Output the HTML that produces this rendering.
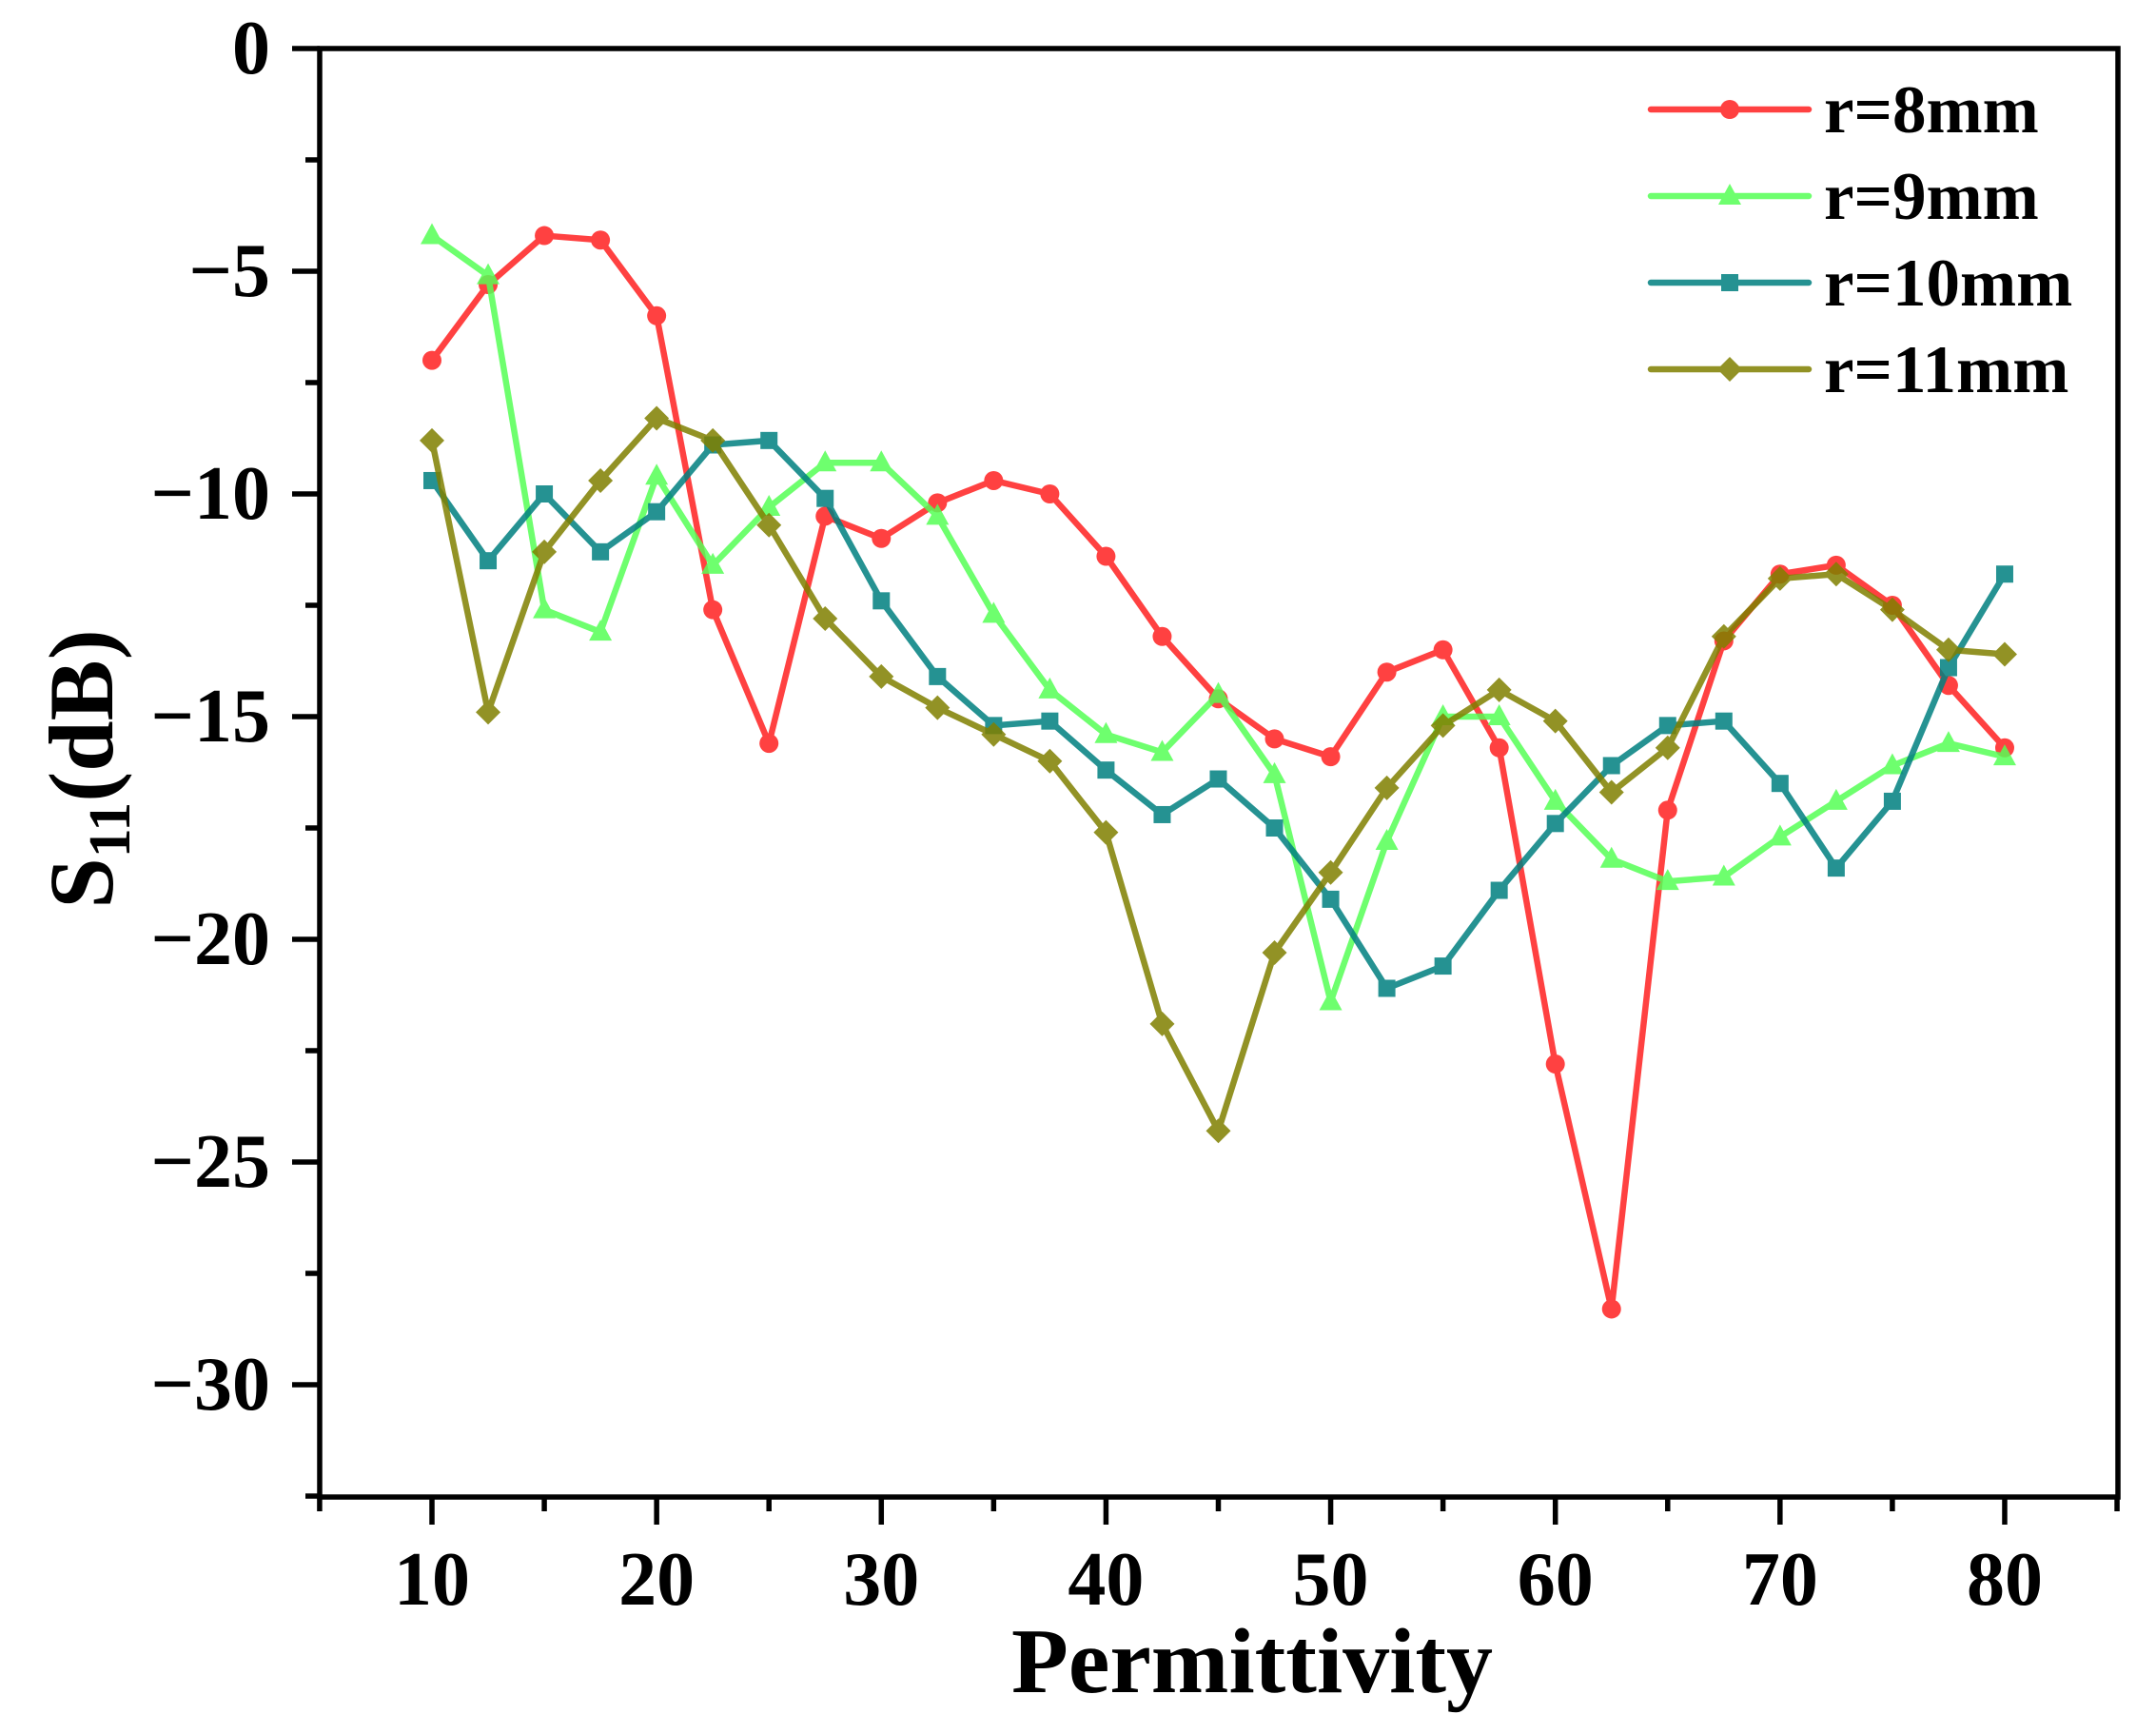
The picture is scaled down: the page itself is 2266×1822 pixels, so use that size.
<!DOCTYPE html>
<html><head><meta charset="utf-8"><style>
html,body{margin:0;padding:0;background:#fff;}
svg{display:block;}
text{font-family:"Liberation Serif",serif;font-weight:bold;fill:#000;}
</style></head><body>
<svg id="c" width="2266" height="1822" viewBox="0 0 2266 1822" xmlns="http://www.w3.org/2000/svg">
<g stroke="#000" stroke-width="5.5" fill="none">
<rect x="336" y="51" width="1890" height="1522"/>
</g>
<g id="ticks" stroke="#000" stroke-width="5.5"></g>
<g font-size="80" text-anchor="end" id="ylab"></g>
<g font-size="80" text-anchor="middle" id="xlab"></g>
<text x="1316" y="1778" font-size="98" text-anchor="middle">Permittivity</text>
<text transform="translate(118,808) rotate(-90)" font-size="96" text-anchor="middle">S<tspan font-size="62" dy="18">11</tspan><tspan dy="-18">(dB)</tspan></text>
<g id="series"></g>
<g id="legend" font-size="71"></g>
</svg>
<script>
var NS="http://www.w3.org/2000/svg";
function X(v){return 454+(v-10)*23.614;}
function Y(d){return 51+(-d)*46.8;}
function el(t,a,p,txt){var e=document.createElementNS(NS,t);for(var k in a)e.setAttribute(k,a[k]);if(txt!=null)e.textContent=txt;p.appendChild(e);return e;}
var tk=document.getElementById('ticks'),yl=document.getElementById('ylab'),xl=document.getElementById('xlab');
for(var d=0;d<=32.5;d+=2.5){var y=Y(-d);var maj=(d%5==0);el('line',{x1:336-(maj?29:15),x2:336,y1:y,y2:y},tk);
 if(maj)el('text',{x:284,y:y+26},yl,d==0?'0':'\u2212'+d);}
for(var v=5;v<=85;v+=5){var x=X(v);var maj=(v%10==0);el('line',{x1:x,x2:x,y1:1573,y2:1573+(maj?29:15)},tk);
 if(maj)el('text',{x:x,y:1686},xl,String(v));}
var S=[
{c:'#ff2020',m:'c',n:'r=8mm',d:[-7.0,-5.3,-4.2,-4.3,-6.0,-12.6,-15.6,-10.5,-11.0,-10.2,-9.7,-10.0,-11.4,-13.2,-14.6,-15.5,-15.9,-14.0,-13.5,-15.7,-22.8,-28.3,-17.1,-13.3,-11.8,-11.6,-12.5,-14.3,-15.7]},
{c:'#55ff55',m:'t',n:'r=9mm',d:[-4.2,-5.1,-12.6,-13.1,-9.6,-11.6,-10.3,-9.3,-9.3,-10.5,-12.7,-14.4,-15.4,-15.8,-14.5,-16.3,-21.4,-17.8,-15.0,-15.0,-16.9,-18.2,-18.7,-18.6,-17.7,-16.9,-16.1,-15.6,-15.9]},
{c:'#008080',m:'s',n:'r=10mm',d:[-9.7,-11.5,-10.0,-11.3,-10.4,-8.9,-8.8,-10.1,-12.4,-14.1,-15.2,-15.1,-16.2,-17.2,-16.4,-17.5,-19.1,-21.1,-20.6,-18.9,-17.4,-16.1,-15.2,-15.1,-16.5,-18.4,-16.9,-13.9,-11.8]},
{c:'#808000',m:'d',n:'r=11mm',d:[-8.8,-14.9,-11.3,-9.7,-8.3,-8.8,-10.7,-12.8,-14.1,-14.8,-15.4,-16.0,-17.6,-21.9,-24.3,-20.3,-18.5,-16.6,-15.2,-14.4,-15.1,-16.7,-15.7,-13.2,-11.9,-11.8,-12.6,-13.5,-13.6]}];
var sg=document.getElementById('series'),lg=document.getElementById('legend');
function mark(t,x,y,c,p){
 if(t=='c')el('circle',{cx:x,cy:y,r:10,fill:c},p);
 else if(t=='t')el('polygon',{points:(x)+','+(y-13)+' '+(x-12)+','+(y+9)+' '+(x+12)+','+(y+9),fill:c},p);
 else if(t=='s')el('rect',{x:x-9,y:y-9,width:18,height:18,fill:c},p);
 else el('polygon',{points:x+','+(y-13)+' '+(x+13)+','+y+' '+x+','+(y+13)+' '+(x-13)+','+y,fill:c},p);}
S.forEach(function(s,i){
 var g=el('g',{opacity:0.85},sg);var pts=s.d.map(function(d,j){return X(10+2.5*j)+','+Y(d);}).join(' ');
 el('polyline',{points:pts,fill:'none',stroke:s.c,'stroke-width':6.5,'stroke-linejoin':'round'},g);
 s.d.forEach(function(d,j){mark(s.m,X(10+2.5*j),Y(d),s.c,g);});
 var ly=115+i*91;var lgg=el('g',{opacity:0.85},lg);
 el('line',{x1:1735,x2:1901,y1:ly,y2:ly,stroke:s.c,'stroke-width':6.5,'stroke-linecap':'round'},lgg);
 mark(s.m,1818,ly,s.c,lgg);
 el('text',{x:1917,y:ly+24},lg,s.n);
});
</script>
</body></html>
